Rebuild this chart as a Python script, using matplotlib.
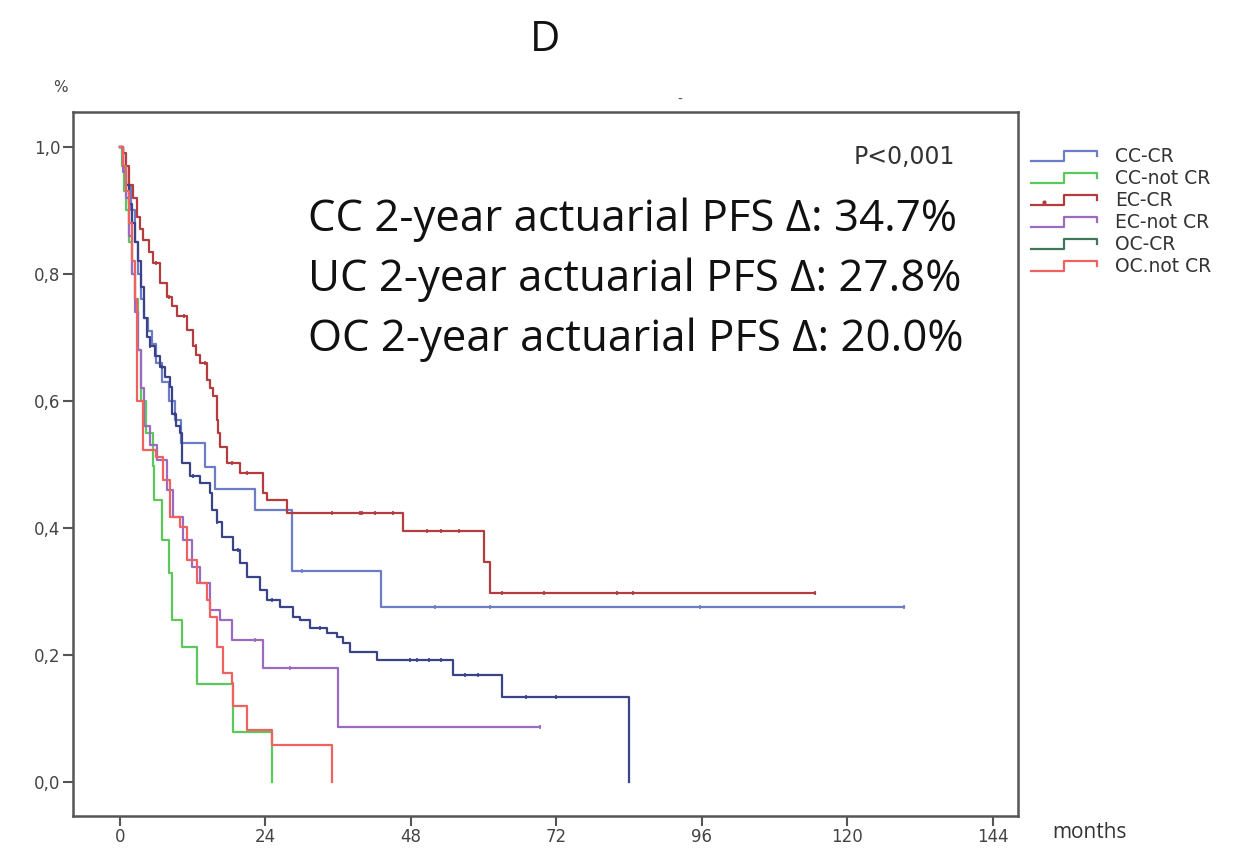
import matplotlib

matplotlib.use("Agg")
import matplotlib.pyplot as plt
import numpy as np
from matplotlib.legend_handler import HandlerBase
from matplotlib.lines import Line2D

# Kaplan-Meier step data (months, survival)
cc_cr_t = [0, 0.5, 1, 1.8, 2.5, 3, 3.5, 4, 4.6, 5.2, 6, 7, 8, 9, 10, 14, 15.7, 22.3, 28.4, 43, 129.4]
cc_cr_s = [1.0, 0.97, 0.94, 0.90, 0.85, 0.80, 0.76, 0.73, 0.71, 0.69, 0.66, 0.63, 0.60, 0.57, 0.534,
           0.496, 0.461, 0.428, 0.332, 0.276, 0.276]
cc_cr_c = [30, 52, 61, 95.7, 129.4]

cc_ncr_t = [0, 0.3, 0.7, 1.0, 1.5, 2, 2.5, 3, 3.5, 4.3, 5.5, 5.6, 6.9, 8, 8.5, 8.6, 10.2, 12.65, 18.7, 25]
cc_ncr_s = [1.0, 0.97, 0.93, 0.90, 0.85, 0.80, 0.76, 0.68, 0.60, 0.55, 0.497, 0.444, 0.381, 0.329,
            0.297, 0.255, 0.213, 0.155, 0.079, 0.0]
cc_ncr_c = []

ec_cr_t = [0, 0.5, 1, 1.5, 2.2, 2.75, 3.3, 3.85, 4.7, 5.5, 6.6, 7.7, 8.5, 9.35, 11, 12.1, 12.6, 13.2,
           14.3, 14.8, 15.4, 15.95, 16.2, 16.5, 17.6, 19.8, 23.6, 24.2, 27.5, 46.7, 60, 61, 114.7]
ec_cr_s = [1.0, 0.99, 0.97, 0.94, 0.92, 0.89, 0.87, 0.854, 0.835, 0.817, 0.785, 0.764, 0.75, 0.733,
           0.712, 0.686, 0.672, 0.659, 0.633, 0.62, 0.607, 0.57, 0.55, 0.528, 0.502, 0.486, 0.455,
           0.444, 0.424, 0.395, 0.346, 0.298, 0.298]
ec_cr_c = [6, 8, 10.5, 12.5, 14, 18.5, 21, 35, 39.6, 40, 42, 45, 50.6, 53, 56, 63, 70, 82, 84.7, 114.7]

ec_ncr_t = [0, 0.5, 1, 1.5, 2, 2.5, 3, 3.5, 4, 5, 6.05, 7.7, 8.8, 10.45, 11.8, 13.2, 14.85, 16.5,
            18.4, 23.6, 36, 69.3]
ec_ncr_s = [1.0, 0.96, 0.92, 0.86, 0.80, 0.74, 0.68, 0.62, 0.56, 0.53, 0.507, 0.46, 0.418, 0.381,
            0.339, 0.313, 0.271, 0.255, 0.224, 0.18, 0.087, 0.087]
ec_ncr_c = [22.3, 28, 69.3]

oc_cr_t = [0, 0.5, 1, 1.5, 2, 2.5, 3, 3.5, 3.9, 4.5, 5, 5.8, 6.6, 7.4, 8.25, 8.6, 9.2, 9.9, 10.2,
           11.5, 13.2, 14.8, 15.2, 16, 16.8, 18.7, 19.8, 20.9, 23.1, 24.2, 26.4, 28.6, 29.7, 31.4,
           34.1, 35.8, 36.8, 38, 42.4, 55, 63, 84]
oc_cr_s = [1.0, 0.97, 0.94, 0.91, 0.88, 0.85, 0.82, 0.78, 0.73, 0.70, 0.686, 0.67, 0.654, 0.638,
           0.622, 0.58, 0.56, 0.549, 0.502, 0.481, 0.47, 0.455, 0.428, 0.41, 0.386, 0.365, 0.345,
           0.323, 0.302, 0.287, 0.276, 0.26, 0.255, 0.242, 0.234, 0.229, 0.219, 0.205, 0.192,
           0.168, 0.134, 0.0]
oc_cr_c = [5, 7, 9, 12, 16, 19.5, 25, 33, 47.9, 49, 51, 53, 57, 59, 67, 72]

oc_ncr_t = [0, 0.5, 1, 1.5, 2, 2.5, 2.8, 3.85, 6, 7.15, 8.25, 9.9, 11, 12.65, 14.3, 14.85, 15.95,
            17, 18.4, 18.7, 20.9, 25, 34.9]
oc_ncr_s = [1.0, 0.97, 0.93, 0.88, 0.82, 0.76, 0.60, 0.523, 0.512, 0.476, 0.418, 0.402, 0.35,
            0.313, 0.287, 0.26, 0.213, 0.171, 0.156, 0.119, 0.082, 0.058, 0.0]
oc_ncr_c = []

labels = ["CC-CR", "CC-not CR", "EC-CR", "EC-not CR", "OC-CR", "OC.not CR"]
line_colors = ["#6d7cc6", "#5cc85c", "#b23c3e", "#9a6bbf", "#3b4388", "#ee6262"]
legend_colors = ["#6d7cc6", "#5cc85c", "#b23c3e", "#9a6bbf", "#3f7658", "#ee6262"]

series = [
    (cc_cr_t, cc_cr_s, cc_cr_c),
    (cc_ncr_t, cc_ncr_s, cc_ncr_c),
    (ec_cr_t, ec_cr_s, ec_cr_c),
    (ec_ncr_t, ec_ncr_s, ec_ncr_c),
    (oc_cr_t, oc_cr_s, oc_cr_c),
    (oc_ncr_t, oc_ncr_s, oc_ncr_c),
]

x_ticks = [0, 24, 48, 72, 96, 120, 144]
y_ticks = [0.0, 0.2, 0.4, 0.6, 0.8, 1.0]
y_tick_labels = ["0,0", "0,2", "0,4", "0,6", "0,8", "1,0"]

annotations = [
    "CC 2-year actuarial PFS \u0394: 34.7%",
    "UC 2-year actuarial PFS \u0394: 27.8%",
    "OC 2-year actuarial PFS \u0394: 20.0%",
]


class StepHandler(HandlerBase):
    def create_artists(self, legend, orig_handle, xdescent, ydescent, width, height, fontsize, trans):
        xs = np.array([0, 0.5, 0.5, 1.0, 1.0]) * width - xdescent
        ys = np.array([0.1, 0.1, 0.8, 0.8, 0.45]) * height - ydescent
        line = Line2D(xs, ys, color=orig_handle.get_color(), lw=1.6, transform=trans)
        artists = [line]
        if orig_handle.get_marker() not in (None, "None", ""):
            dot = Line2D([0.2 * width - xdescent], [0.35 * height - ydescent], marker="o",
                         markersize=2, color=orig_handle.get_color(), transform=trans)
            artists.append(dot)
        return artists


def step_value(t, s, x):
    i = np.searchsorted(np.array(t), x, side="right") - 1
    return s[max(i, 0)]


fig = plt.figure(figsize=(12.57, 8.52), dpi=100)
ax = fig.add_axes([0.0581, 0.0423, 0.7518, 0.8263])

for (t, s, c), col in zip(series, line_colors):
    ax.step(t, s, where="post", color=col, lw=1.6)
    if c:
        cy = [step_value(t, s, x) for x in c]
        ax.plot(c, cy, linestyle="none", marker="|", markersize=3.5, markeredgewidth=1.2, color=col)

ax.set_xlim(-7.76, 148.2)
ax.set_ylim(-0.0535, 1.055)
ax.set_xticks(x_ticks)
ax.set_xticklabels([str(v) for v in x_ticks])
ax.set_yticks(y_ticks)
ax.set_yticklabels(y_tick_labels)
ax.tick_params(direction="out", length=7, width=1.5, color="#555555", labelcolor="#444444",
               labelsize=12, pad=2)
for sp in ax.spines.values():
    sp.set_color("#555555")
    sp.set_linewidth(1.8)

# texts
fig.text(545 / 1257, 1 - 40 / 852, "D", fontsize=30, ha="center", va="center", color="#111111",
         family="Open Sans")
fig.text(60 / 1257, 1 - 88 / 852, "%", fontsize=11, ha="center", va="center", color="#444444")
fig.text(1090 / 1257, 1 - 832 / 852, "months", fontsize=15, ha="center", va="center",
         color="#333333", family="Open Sans")
fig.text(680 / 1257, 1 - 100 / 852, "-", fontsize=10, ha="center", va="center", color="#555555")
ax.text(0.933, 0.936, "P<0,001", transform=ax.transAxes, fontsize=17, ha="right", va="center",
        color="#333333", family="DejaVu Sans")
for i, txt in enumerate(annotations):
    ax.text(0.249, 0.847 - i * 0.0852, txt, transform=ax.transAxes, fontsize=31.5, ha="left",
            va="center", color="#111111", family="Open Sans")

handles = []
for lab, col in zip(labels, legend_colors):
    handles.append(Line2D([], [], color=col, marker="o" if lab == "EC-CR" else "None"))
fig.legend(handles, labels, handler_map={Line2D: StepHandler()}, loc="upper left",
           bbox_to_anchor=(1031 / 1257, 1 - 147 / 852), frameon=False, fontsize=13.5,
           handlelength=3.5, handleheight=0.8, handletextpad=1.0, labelspacing=0.16,
           borderpad=0, borderaxespad=0, labelcolor="#333333")

fig.savefig("out.png", dpi=100)
